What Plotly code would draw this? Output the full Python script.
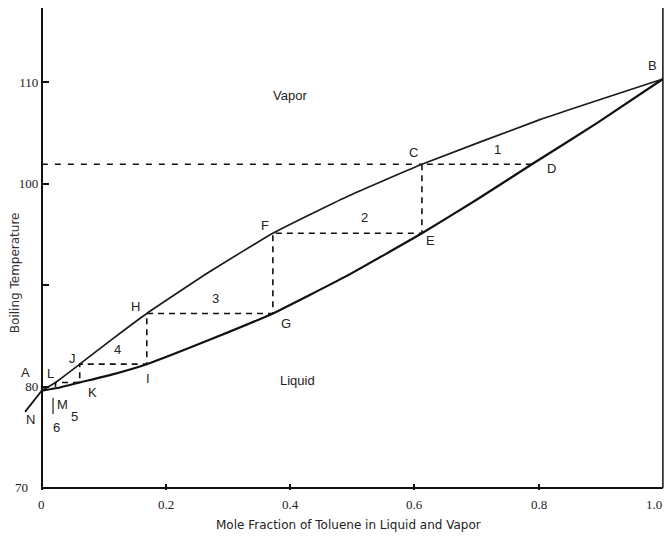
import plotly.graph_objects as go

# Liquid (bubble-point) curve
liquid_x = [0.0, 0.029, 0.061, 0.114, 0.169, 0.270, 0.372, 0.491, 0.612, 0.700, 0.789, 0.895, 1.0]
liquid_T = [79.6, 79.9, 80.4, 81.2, 82.2, 84.6, 87.2, 90.9, 95.1, 98.4, 101.9, 106.0, 110.3]
# Vapor (dew-point) curve
vapor_x = [0.0, 0.022, 0.061, 0.114, 0.169, 0.270, 0.372, 0.491, 0.612, 0.802, 1.0]
vapor_T = [79.6, 80.4, 82.2, 84.7, 87.2, 91.3, 95.1, 98.7, 101.9, 106.3, 110.3]
# Extension below the axis (N)
n_x = [-0.027, 0.0]
n_T = [77.5, 79.6]
# Stage construction
feed_x = 0.789
stage_vx = [0.612, 0.372, 0.169, 0.061, 0.022]
stage_T = [101.9, 95.1, 87.2, 82.2, 80.4]
last_liq_T = 79.8
# mark "6" leader
six_x = [0.018, 0.018]
six_T = [78.9, 77.3]

xtick_vals = [0, 0.2, 0.4, 0.6, 0.8, 1.0]
xtick_text = ["0", "0.2", "0.4", "0.6", "0.8", "1.0"]
ytick_vals = [70, 80, 90, 100, 110]
ytick_text = ["70", "80", "", "100", "110"]

# point labels
lab_text = ["B", "C", "D", "E", "F", "G", "H", "I", "J", "K", "L", "M", "N", "A",
            "1", "2", "3", "4", "5", "6", "Vapor", "Liquid"]
lab_x = [0.984, 0.599, 0.821, 0.625, 0.359, 0.393, 0.150, 0.171, 0.050, 0.081, 0.014, 0.034, -0.019, -0.027,
         0.733, 0.520, 0.279, 0.122, 0.053, 0.024, 0.399, 0.411]
lab_T = [111.6, 103.1, 101.5, 94.4, 95.9, 86.2, 87.9, 80.8, 82.8, 79.4, 81.3, 78.2, 76.7, 81.4,
         103.4, 96.7, 88.7, 83.6, 77.0, 76.0, 108.7, 80.6]

# build the dashed step path
px, py = [feed_x], [stage_T[0]]
for i, (vx, t) in enumerate(zip(stage_vx, stage_T)):
    px.append(vx); py.append(t)
    nxt = stage_T[i + 1] if i + 1 < len(stage_T) else last_liq_T
    px.append(vx); py.append(nxt)

fig = go.Figure()
fig.add_trace(go.Scatter(x=[0, stage_vx[0]], y=[stage_T[0], stage_T[0]], mode="lines",
                         line=dict(color="#111", width=1.5, dash="6px,7px"), showlegend=False))
fig.add_trace(go.Scatter(x=px, y=py, mode="lines",
                         line=dict(color="#111", width=1.6, dash="6px,5px"), showlegend=False))
fig.add_trace(go.Scatter(x=liquid_x, y=liquid_T, mode="lines",
                         line=dict(color="#111", width=2.2, shape="spline", smoothing=0.4), showlegend=False))
fig.add_trace(go.Scatter(x=vapor_x, y=vapor_T, mode="lines",
                         line=dict(color="#1a1a1a", width=1.7, shape="spline", smoothing=0.4), showlegend=False))
fig.add_trace(go.Scatter(x=n_x, y=n_T, mode="lines", line=dict(color="#111", width=1.8), showlegend=False))
fig.add_trace(go.Scatter(x=six_x, y=six_T, mode="lines", line=dict(color="#333", width=1.3), showlegend=False))

for t, x, y in zip(lab_text, lab_x, lab_T):
    fig.add_annotation(x=x, y=y, text=t, showarrow=False,
                       font=dict(family="Liberation Sans", size=13, color="#222"))

# axis frame lines
fig.add_shape(type="line", x0=0, x1=1, y0=70, y1=70, line=dict(color="#111", width=2))
fig.add_shape(type="line", x0=1, x1=1, y0=70, y1=117.3, line=dict(color="#111", width=1.5))

fig.add_annotation(xref="paper", yref="paper", x=-0.003, y=0.45, text="Boiling Temperature",
                   textangle=-90, showarrow=False, xanchor="center",
                   font=dict(family="DejaVu Sans", size=12, color="#333"))
fig.add_annotation(x=0.493, yref="paper", y=-0.0726, text="Mole Fraction of Toluene in Liquid and Vapor",
                   showarrow=False, yanchor="middle",
                   font=dict(family="DejaVu Sans", size=12, color="#222"))

xmin, xmax = -0.04, 1.005
fig.update_layout(
    width=667, height=542,
    margin=dict(l=17, r=1, t=8, b=52),
    paper_bgcolor="white", plot_bgcolor="white",
    xaxis=dict(range=[xmin, xmax], tickvals=xtick_vals[1:5], ticktext=[""] * 4,
               ticks="inside", ticklen=6, tickcolor="#111", showgrid=False, zeroline=False,
               showline=False, tickwidth=1.5, automargin=False),
    yaxis=dict(range=[69.8, 117.3], anchor="free", position=(0 - xmin) / (xmax - xmin),
               tickvals=ytick_vals[1:], ticktext=ytick_text[1:], ticks="inside", ticklen=6,
               tickcolor="#111", tickwidth=1.5, showline=True, linecolor="#111", linewidth=2,
               showgrid=False, zeroline=False, automargin=False,
               tickfont=dict(family="Liberation Serif", size=13, color="#222")),
)
# x tick labels and 70 label as annotations tied to the data scale
for v, t in zip(xtick_vals, xtick_text):
    fig.add_annotation(x=v, y=69.8, yshift=-14, xshift=(-9 if v == 1.0 else 0), text=t, showarrow=False,
                       font=dict(family="Liberation Serif", size=13, color="#222"))
fig.add_annotation(x=0, y=70, xshift=-20, text=ytick_text[0], showarrow=False,
                   font=dict(family="Liberation Serif", size=13, color="#222"))

fig.write_html("out.html", config={"displayModeBar": False},
               post_script="document.body.style.margin='0';document.body.style.overflow='hidden';")
